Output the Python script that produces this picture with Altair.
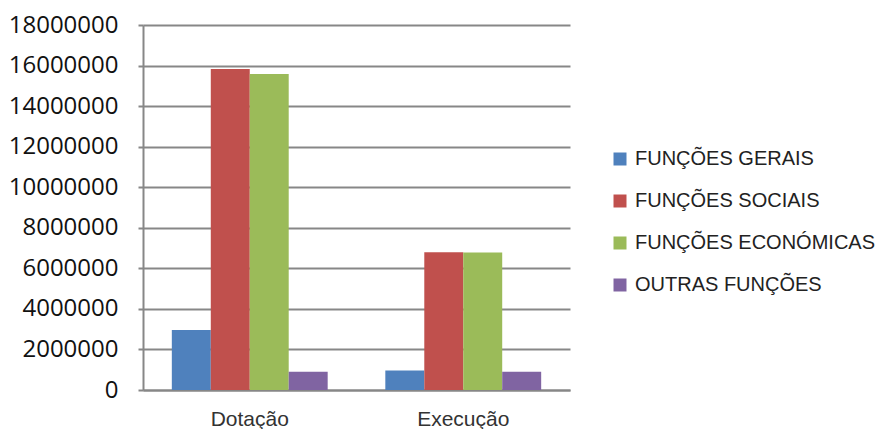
import altair as alt
import pandas as pd

# Budget by function: allocation (Dotação) vs execution (Execução)
categories = ["Dotação", "Execução"]
series = ["FUNÇÕES GERAIS", "FUNÇÕES SOCIAIS", "FUNÇÕES ECONÓMICAS", "OUTRAS FUNÇÕES"]
dotacao = [2960000, 15830000, 15580000, 900000]
execucao = [960000, 6790000, 6780000, 900000]
colors = ["#4F81BD", "#C0504D", "#9BBB59", "#8064A2"]
y_ticks = [0, 2000000, 4000000, 6000000, 8000000, 10000000, 12000000,
           14000000, 16000000, 18000000]

rows = []
for s, a, b in zip(series, dotacao, execucao):
    rows.append({"categoria": categories[0], "serie": s, "valor": a})
    rows.append({"categoria": categories[1], "serie": s, "valor": b})
df = pd.DataFrame(rows)

grid_color = "#878787"

chart = (
    alt.Chart(df)
    .mark_bar()
    .encode(
        x=alt.X(
            "categoria:N",
            sort=categories,
            title=None,
            scale=alt.Scale(paddingInner=0.27, paddingOuter=0.135),
            axis=alt.Axis(
                labelAngle=0,
                labelFont="Liberation Sans",
                labelFontSize=21,
                labelColor="#333333",
                labelPadding=18,
                ticks=False,
                grid=False,
                domainColor=grid_color,
                domainWidth=2,
            ),
        ),
        xOffset=alt.XOffset("serie:N", sort=series, scale=alt.Scale(paddingInner=0, paddingOuter=0)),
        y=alt.Y(
            "valor:Q",
            title=None,
            scale=alt.Scale(domain=[0, 18000000], nice=False),
            axis=alt.Axis(
                values=y_ticks,
                format="d",
                labelFont="Open Sans",
                labelFontSize=24,
                labelColor="#111111",
                labelPadding=20,
                tickSize=5,
                tickColor=grid_color,
                tickWidth=2,
                gridColor=grid_color,
                gridWidth=2,
                domainColor=grid_color,
                domainWidth=2,
            ),
        ),
        color=alt.Color(
            "serie:N",
            sort=series,
            scale=alt.Scale(domain=series, range=colors),
            legend=alt.Legend(
                title=None,
                orient="none",
                legendX=467,
                legendY=124,
                symbolType="square",
                symbolSize=169,
                symbolStrokeWidth=0,
                labelFont="Liberation Sans",
                labelFontSize=20,
                labelColor="#222222",
                labelOffset=5,
                labelLimit=400,
                rowPadding=22,
            ),
        ),
    )
    .properties(
        width=427,
        height=365,
        padding={"left": 143, "top": 25, "right": 310, "bottom": 39},
        autosize=alt.AutoSizeParams(type="none"),
    )
    .configure(background="white", view=alt.ViewConfig(stroke="transparent"))
)

chart.save("out.html", embed_options={"renderer": "svg", "actions": False})
